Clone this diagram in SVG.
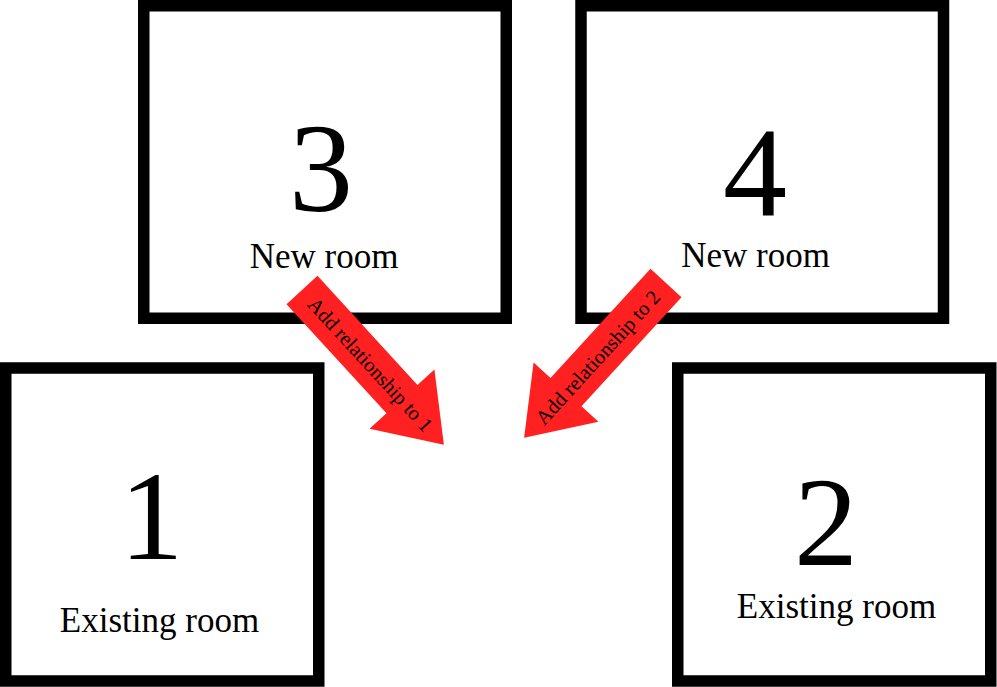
<svg xmlns="http://www.w3.org/2000/svg" width="997" height="687" viewBox="0 0 997 687">
<style>
.room{fill:#fff;stroke:#000;stroke-width:11.5}
.num{font-family:"Liberation Serif","Times New Roman",serif;font-size:128px;text-anchor:middle;fill:#000}
.lbl{font-family:"Liberation Serif","Times New Roman",serif;font-size:35px;text-anchor:middle;fill:#000}
.arrow{fill:#ff2121}
.atxt{font-family:"Liberation Serif","Times New Roman",serif;font-size:20.5px;text-anchor:middle;fill:#000}
</style>
<defs>
<polygon id="arrowShape" points="0,-21 148,-21 148,-44 210,0 148,44 148,21 0,21"/>
</defs>
<rect x="0" y="0" width="997" height="687" fill="#fff"/>
<g id="room3">
<rect class="room" x="143.75" y="5.75" width="362.5" height="312.5"/>
<text class="num" x="321" y="211">3</text>
<text class="lbl" x="324" y="268">New room</text>
</g>
<g id="room4">
<rect class="room" x="581" y="5.75" width="362.5" height="312.5"/>
<text class="num" x="755" y="215">4</text>
<text class="lbl" x="755.5" y="266.5">New room</text>
</g>
<g id="room1">
<rect class="room" x="5.75" y="368" width="313" height="313"/>
<text class="num" x="151.5" y="559">1</text>
<text class="lbl" x="159.5" y="632">Existing room</text>
</g>
<g id="room2">
<rect class="room" x="677.75" y="368" width="313" height="313"/>
<text class="num" x="826" y="565">2</text>
<text class="lbl" x="836.5" y="618">Existing room</text>
</g>
<g id="connectors">
<g id="arrow3to1">
<use href="#arrowShape" class="arrow" transform="translate(302,290) rotate(47.5)"/>
<text class="atxt" transform="translate(370.3,364.5) rotate(47.5)" x="0" y="7">Add relationship to 1</text>
</g>
<g id="arrow4to2">
<use href="#arrowShape" class="arrow" transform="translate(666,283) rotate(132.5)"/>
<text class="atxt" transform="translate(597.7,357.5) rotate(-47.5)" x="0" y="7">Add relationship to 2</text>
</g>
</g>
</svg>
